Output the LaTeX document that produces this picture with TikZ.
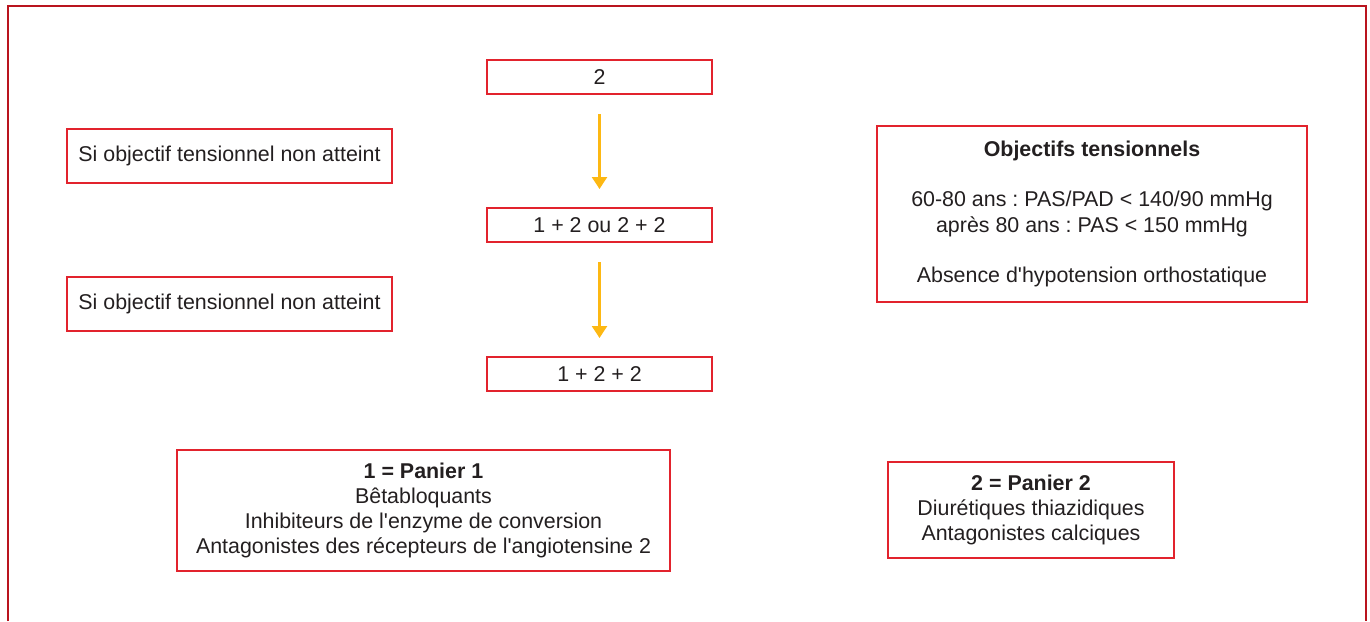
\documentclass[tikz,border=0pt]{standalone}
\usepackage{fontspec}
\setmainfont{Liberation Sans}
\usetikzlibrary{positioning,arrows.meta}
\frenchspacing

\definecolor{framered}{RGB}{185,20,30}
\definecolor{boxred}{RGB}{226,35,45}
\definecolor{arroworange}{RGB}{253,184,19}
\definecolor{textgray}{RGB}{35,31,32}

\tikzset{
  box/.style={draw=boxred, line width=2pt, text=textgray, align=center,
    inner sep=0pt, font=\fontsize{21.4}{25.3}\selectfont},
  flowarrow/.style={draw=arroworange, line width=2.4pt,
    -{Triangle[width=15pt,length=12pt]}, shorten <=19pt, shorten >=18pt}
}

\begin{document}
\begin{tikzpicture}[x=1pt,y=-1pt]
\useasboundingbox (0,0) rectangle (1370,621);
% outer frame, open at the bottom
\draw[framered, line width=2.8pt] (8,621) -- (8,6) -- (1366,6) -- (1366,621);

% treatment steps
\node[box, minimum width=225pt, minimum height=34pt] (step1) at (599.5,77) {2};
\node[box, minimum width=225pt, minimum height=34pt] (step2) at (599.5,225) {1 + 2 ou 2 + 2};
\node[box, minimum width=225pt, minimum height=34pt] (step3) at (599.5,374) {1 + 2 + 2};
\draw[flowarrow] (step1) -- (step2);
\draw[flowarrow] (step2) -- (step3);

% conditions
\node[box, minimum width=325pt, minimum height=54pt] (cond1) at (229.5,156) {Si objectif tensionnel non atteint};
\node[box, minimum width=325pt, minimum height=54pt] (cond2) at (229.5,304) {Si objectif tensionnel non atteint};

% targets
\node[box, minimum width=430pt, minimum height=176pt] (goals) at (1092,214)
  {\textbf{Objectifs tensionnels}\\[25.3pt]
   60-80 ans : PAS/PAD < 140/90 mmHg\\
   après 80 ans : PAS < 150 mmHg\\[25.3pt]
   Absence d\textquotesingle hypotension orthostatique};

% baskets
\node[box, minimum width=493pt, minimum height=121pt] (basket1) at (423.5,510.5)
  {\textbf{1 = Panier 1}\\
   Bêtabloquants\\
   Inhibiteurs de l\textquotesingle enzyme de conversion\\
   Antagonistes des récepteurs de l\textquotesingle angiotensine 2};
\node[box, minimum width=286pt, minimum height=96pt] (basket2) at (1031,510)
  {\textbf{2 = Panier 2}\\
   Diurétiques thiazidiques\\
   Antagonistes calciques};
\end{tikzpicture}
\end{document}
